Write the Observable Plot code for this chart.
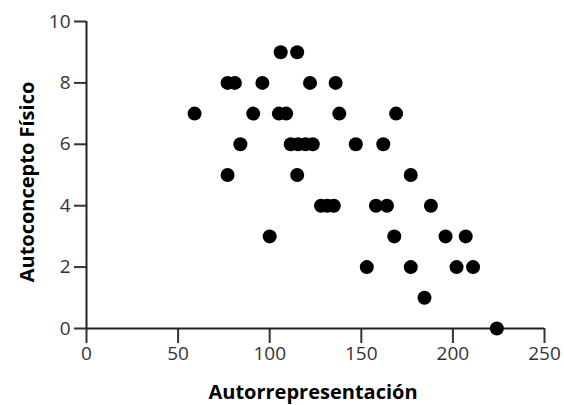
<!DOCTYPE html>
<html><head><meta charset="utf-8">
<script src="https://cdn.jsdelivr.net/npm/d3@7"></script>
<script src="https://cdn.jsdelivr.net/npm/@observablehq/plot@0.6"></script>
<style>body{margin:0;background:#fff}</style>
</head><body><div id="chart"></div>
<script>
const xLabel = "Autorrepresentación";
const yLabel = "Autoconcepto Físico";
const xTicks = [0, 50, 100, 150, 200, 250];
const yTicks = [0, 2, 4, 6, 8, 10];
const autorrepresentacion = [
  106, 115,
  77, 81, 96, 122, 136,
  59, 91, 105, 109, 138, 169,
  84, 111.5, 115.5, 119.5, 123.5, 147, 162,
  77, 115, 177,
  128, 131.5, 135, 158, 164, 188,
  100, 168, 196, 207,
  153, 177, 202, 211,
  184.5,
  224
];
const autoconcepto = [
  9, 9,
  8, 8, 8, 8, 8,
  7, 7, 7, 7, 7, 7,
  6, 6, 6, 6, 6, 6, 6,
  5, 5, 5,
  4, 4, 4, 4, 4, 4,
  3, 3, 3, 3,
  2, 2, 2, 2,
  1,
  0
];
const data = autorrepresentacion.map((x, i) => ({x, y: autoconcepto[i]}));

const chart = Plot.plot({
  width: 564,
  height: 405,
  marginLeft: 86,
  marginRight: 20,
  marginTop: 21,
  marginBottom: 77,
  style: {fontFamily: "'Open Sans', sans-serif", fontSize: "19px", color: "#333", background: "white"},
  x: {domain: [0, 250]},
  y: {domain: [0, 10]},
  marks: [
    Plot.axisX({ticks: xTicks, tickSize: 15, tickPadding: 3, stroke: "#333", strokeWidth: 2, label: null}),
    Plot.axisY({ticks: yTicks, tickSize: 12, tickPadding: 4, stroke: "#333", strokeWidth: 2, label: null}),
    Plot.ruleY([0], {stroke: "#222", strokeWidth: 2}),
    Plot.ruleX([0], {stroke: "#222", strokeWidth: 2}),
    Plot.dot(data, {x: "x", y: "y", r: 7, fill: "black", stroke: null}),
    Plot.text([xLabel], {text: d => d, frameAnchor: "bottom", lineAnchor: "bottom", textAnchor: "middle", dy: 70, dx: -2.5, fontWeight: "bold", fontSize: 20, fill: "black"}),
    Plot.text([yLabel], {text: d => d, frameAnchor: "left", lineAnchor: "bottom", textAnchor: "middle", rotate: -90, dx: -53, dy: 7, fontWeight: "bold", fontSize: 20, fill: "black"})
  ]
});
document.getElementById("chart").appendChild(chart);
</script>
</body></html>
